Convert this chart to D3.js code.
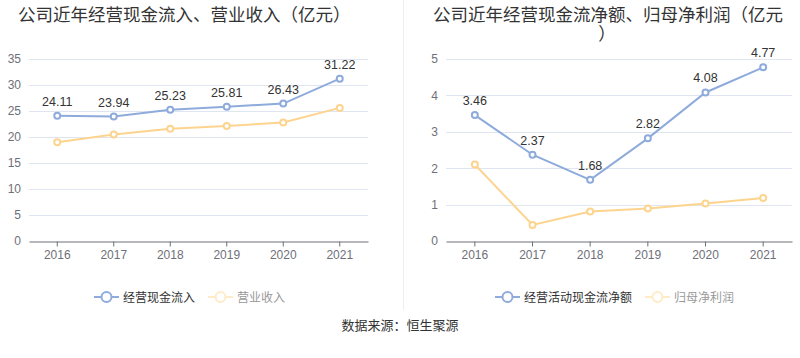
<!DOCTYPE html>
<html>
<head>
<meta charset="utf-8">
<script src="https://cdn.jsdelivr.net/npm/d3@7"></script>
<style>
  body { margin: 0; background: #fff; }
  svg { font-family: "Noto Sans CJK SC", "Noto Sans", sans-serif; }
</style>
</head>
<body>
<div id="chart"></div>
<script>
var years = ["2016", "2017", "2018", "2019", "2020", "2021"];
var cashIn = [24.11, 23.94, 25.23, 25.81, 26.43, 31.22];
var revenue = [19.0, 20.5, 21.6, 22.1, 22.8, 25.6];
var cashNet = [3.46, 2.37, 1.68, 2.82, 4.08, 4.77];
var netProfit = [2.10, 0.44, 0.81, 0.89, 1.03, 1.18];
var leftTicks = [0, 5, 10, 15, 20, 25, 30, 35];
var rightTicks = [0, 1, 2, 3, 4, 5];

var blue = "#8eabdc", orange = "#fdd48f";

var svg = d3.select("#chart").append("svg")
  .attr("width", 800).attr("height", 358);

// divider between the two panels
svg.append("line")
  .attr("x1", 403.5).attr("x2", 403.5).attr("y1", 0).attr("y2", 310)
  .style("stroke", "#eeeeee");

function panel(opt) {
  var x = d3.scaleBand().domain(years).range(opt.xr);
  var y = d3.scaleLinear().domain([0, opt.max]).range([241, 59]);
  var g = svg.append("g");

  // gridlines
  g.selectAll(".grid").data(opt.ticks.filter(d => d > 0)).enter().append("line")
    .attr("x1", opt.xr[0]).attr("x2", opt.xr[1])
    .attr("y1", d => Math.round(y(d)) + 0.5).attr("y2", d => Math.round(y(d)) + 0.5)
    .style("stroke", "#e0e6f1");

  // y labels
  g.append("g")
    .attr("transform", "translate(" + (opt.xr[0] - 8) + ",0)")
    .call(d3.axisLeft(y).tickValues(opt.ticks).tickFormat(d3.format("d")).tickSize(0).tickPadding(0))
    .call(a => a.select(".domain").remove())
    .selectAll("text")
      .style("font-size", "12px").style("fill", "#6e7079")
      .style("font-family", "Liberation Sans, sans-serif");

  // x axis
  var xa = g.append("g")
    .attr("transform", "translate(0," + 241.5 + ")")
    .call(d3.axisBottom(x).tickSize(5).tickPadding(4).tickSizeOuter(0));
  xa.select(".domain").style("stroke", "#6e7079");
  xa.selectAll(".tick line").style("stroke", "#6e7079");
  xa.selectAll("text")
    .style("font-size", "12px").style("fill", "#6e7079")
    .style("font-family", "Liberation Sans, sans-serif");

  var line = d3.line()
    .x((d, i) => x(years[i]) + x.bandwidth() / 2)
    .y(d => y(d));

  [[opt.s2, orange], [opt.s1, blue]].forEach(function(s) {
    g.append("path").datum(s[0])
      .attr("d", line)
      .style("fill", "none").style("stroke", s[1]).style("stroke-width", 2);
    g.selectAll(null).data(s[0]).enter().append("circle")
      .attr("cx", (d, i) => x(years[i]) + x.bandwidth() / 2)
      .attr("cy", d => y(d))
      .attr("r", 3)
      .style("fill", "#fff").style("stroke", s[1]).style("stroke-width", 2);
  });

  // value labels for main series
  g.selectAll(null).data(opt.s1).enter().append("text")
    .attr("x", (d, i) => x(years[i]) + x.bandwidth() / 2)
    .attr("y", d => y(d) - 10)
    .attr("text-anchor", "middle")
    .style("font-size", "12.5px").style("fill", "#333")
    .style("font-family", "Liberation Sans, sans-serif")
    .text(d => d.toFixed(2));

  // legend
  opt.legend.forEach(function(l) {
    var lg = g.append("g").attr("transform", "translate(" + l.x + ",297)");
    lg.append("line").attr("x1", 0).attr("x2", 25)
      .style("stroke", l.color).style("stroke-width", 2);
    lg.append("circle").attr("cx", 12.5).attr("r", 5)
      .style("fill", "#fff").style("stroke", l.color).style("stroke-width", 2);
    lg.append("text").attr("x", 29).attr("y", 4.5)
      .style("font-size", "12px").style("fill", l.text)
      .text(l.name);
  });
}

panel({
  xr: [29, 368], max: 35, ticks: leftTicks, s1: cashIn, s2: revenue,
  legend: [
    {x: 94, name: "经营现金流入", color: blue, text: "#333"},
    {x: 208, name: "营业收入", color: "#feebc8", text: "#999"}
  ]
});
panel({
  xr: [446, 792], max: 5, ticks: rightTicks, s1: cashNet, s2: netProfit,
  legend: [
    {x: 495, name: "经营活动现金流净额", color: blue, text: "#333"},
    {x: 645, name: "归母净利润", color: "#feebc8", text: "#999"}
  ]
});

// titles
svg.append("text").attr("x", 18).attr("y", 21)
  .style("font-size", "17.5px").style("fill", "#333")
  .text("公司近年经营现金流入、营业收入（亿元）");
var t2 = svg.append("text").attr("y", 21)
  .style("font-size", "17.5px").style("fill", "#333");
t2.append("tspan").attr("x", 433)
  .text("公司近年经营现金流净额、归母净利润（亿元");
t2.append("tspan").attr("x", 607).attr("dy", 19)
  .attr("text-anchor", "middle")
  .text("）");

// source
svg.append("text").attr("x", 400).attr("y", 330)
  .attr("text-anchor", "middle")
  .style("font-size", "13px").style("fill", "#333")
  .text("数据来源：恒生聚源");
</script>
</body>
</html>
